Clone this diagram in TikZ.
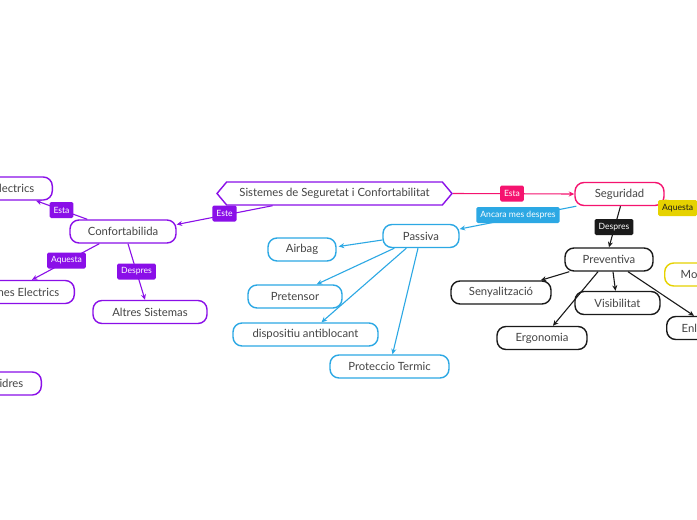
\documentclass[tikz,border=0pt]{standalone}
\usepackage{fontspec}
\setmainfont{Lato}
\usetikzlibrary{shapes.symbols,calc,arrows.meta}
\definecolor{cpur}{HTML}{8A0FE8}
\definecolor{cpink}{HTML}{F5136F}
\definecolor{cblue}{HTML}{2CA8E4}
\definecolor{cyel}{HTML}{E6D200}
\definecolor{cblk}{HTML}{1A1A1A}
\definecolor{ctxt}{HTML}{444444}
\tikzset{
  box/.style={draw=#1, line width=1.4pt, rounded corners=9pt, fill=white,
    minimum height=23pt, inner xsep=4pt, font=\fontsize{11.3}{13}\selectfont, text=ctxt},
  tag/.style={fill=#1, rounded corners=1.5pt, text=white, inner xsep=4pt,
    minimum height=16pt, font=\fontsize{8.6}{10}\selectfont},
  con/.style={draw=#1, line width=1.1pt, -{Stealth[length=5.5pt,width=5pt]}},
}
\begin{document}
\begin{tikzpicture}[x=1pt,y=-1pt]
\useasboundingbox[fill=white] (0,0) rectangle (697,520);

% main
\node[draw=cpur, line width=1.4pt, fill=white, shape=signal, signal to=east and west,
  signal pointer angle=100, minimum height=23pt, minimum width=235pt, inner xsep=1pt,
  font=\fontsize{11.3}{13}\selectfont, text=ctxt] (main) at (334.5,193.5) {Sistemes de Seguretat i Confortabilitat};

% left branch
\node[box=cpur, minimum width=106pt] (conf) at (123,231.5) {Confortabilida};
\node[box=cpur, anchor=east, inner xsep=18pt] (ele1) at (53,188.5) {Retrovisors Electrics};
\node[box=cpur, anchor=east, inner xsep=15pt] (ele2) at (75,292) {Elevalunes Electrics};
\node[box=cpur, minimum width=114pt] (alt) at (150,312) {Altres Sistemas};
\node[box=cpur, anchor=east, inner xsep=18pt] (vid) at (42,383.5) {Elevavidres};

% right branch
\node[box=cpink, minimum width=89pt] (seg) at (619.5,194) {Seguridad};
\node[box=cblue, minimum width=76pt] (pas) at (421,236) {Passiva};
\node[box=cblk, minimum width=88pt] (prev) at (609,259.5) {Preventiva};
\node[box=cyel, anchor=west, inner xsep=16pt] (mot) at (664,274.5) {Motor};

\node[box=cblue, minimum width=68pt] (air) at (302,249.5) {Airbag};
\node[box=cblue, minimum width=94pt] (pret) at (295,296.5) {Pretensor};
\node[box=cblue, minimum width=145pt] (disp) at (305.5,334.5) {dispositiu antiblocant};
\node[box=cblue, minimum width=119pt] (prot) at (389.5,366.5) {Proteccio Termic};

\node[box=cblk, minimum width=100pt] (seny) at (501,292.5) {Senyalització};
\node[box=cblk, minimum width=85pt] (vis) at (617.5,303) {Visibilitat};
\node[box=cblk, minimum width=90pt] (ergo) at (542,338) {Ergonomia};
\node[box=cblk, anchor=west, inner xsep=15pt] (enl) at (666,328) {Enllumenat};

% connectors
\draw[con=cpur] ($(main.south)+(-62,0)$) -- ($(conf.east)+(0,-7)$);
\draw[con=cpur] ($(conf.north west)+(18,0)$) -- ($(ele1.south east)+(-17,0)$);
\draw[con=cpur] ($(conf.south west)+(30,0)$) -- ($(ele2.north east)+(-43,0)$);
\draw[con=cpur] ($(conf.south)+(5,0)$) -- ($(alt.north)+(-5,0)$);

\draw[con=cpink] (main.east) -- (seg.west);
\draw[con=cblue] ($(seg.south west)+(2,0)$) -- ($(pas.east)+(0,-7)$);
\draw[con=cblk] ($(seg.south)+(1,0)$) -- (prev.north);
\coordinate (yb) at (725,208);
\draw[draw=cyel, line width=1.1pt] ($(seg.east)+(0,6)$) -- (yb);
\draw[con=cyel] (yb) -- ($(mot.north)+(40,0)$);

\draw[con=cblue] ($(pas.west)+(0,4)$) -- ($(air.east)+(2,-3)$);
\draw[con=cblue] ($(pas.south west)+(12,0)$) -- ($(pret.north east)+(-26,0)$);
\draw[con=cblue] ($(pas.south west)+(24,0)$) -- ($(disp.north)+(16,0)$);
\draw[con=cblue] ($(pas.south)+(-3,0)$) -- ($(prot.north)+(3,0)$);

\draw[con=cblk] ($(prev.south west)+(5,0)$) -- ($(seny.north east)+(-11,0)$);
\draw[con=cblk] ($(prev.south)+(4,0)$) -- ($(vis.north)+(-2,0)$);
\draw[con=cblk] ($(prev.south)+(-11,0)$) -- ($(ergo.north)+(11,0)$);
\draw[con=cblk] ($(prev.south)+(19,0)$) -- ($(enl.north west)+(28,0)$);

% labels
\node[tag=cpur] (t1) at (224.5,213.5) {Este};
\node[tag=cpur] (t2) at (61.5,210) {Esta};
\node[tag=cpur] (t3) at (66.5,260.5) {Aquesta};
\node[tag=cpur] (t4) at (136.5,271.5) {Despres};
\node[tag=cpink] (t5) at (512,193.5) {Esta};
\node[tag=cblue] (t6) at (518,215) {Ancara mes despres};
\node[tag=cblk] (t7) at (614,227) {Despres};
\node[tag=cyel, text=cblk, anchor=west] (t8) at (658,208) {Aquesta};
\end{tikzpicture}
\end{document}
